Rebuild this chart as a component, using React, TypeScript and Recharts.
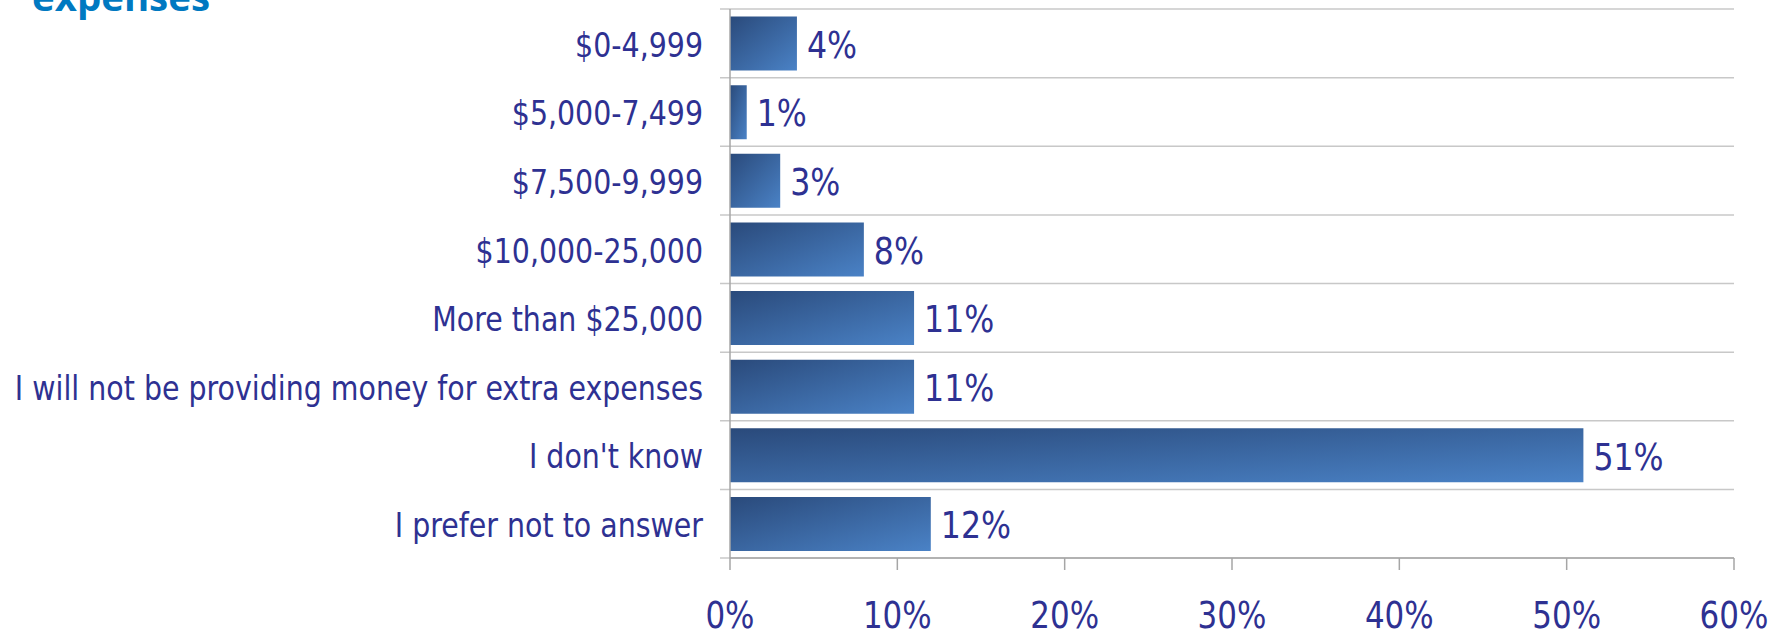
import React from "react";
import {
  BarChart,
  Bar,
  XAxis,
  YAxis,
  CartesianGrid,
  LabelList,
} from "recharts";

const categories = [
  "$0-4,999",
  "$5,000-7,499",
  "$7,500-9,999",
  "$10,000-25,000",
  "More than $25,000",
  "I will not be providing money for extra expenses",
  "I don't know",
  "I prefer not to answer",
];
const shares = [4, 1, 3, 8, 11, 11, 51, 12];
const xTicks = [0, 10, 20, 30, 40, 50, 60];

const W = 1783;
const H = 633;
const TEXT = "#2e3192";
const FONT = '"DejaVu Sans Condensed", "DejaVu Sans", sans-serif';

const data = categories.map((name, i) => ({ name, value: shares[i] }));

// squeeze text sideways, the original face is narrower than anything installed
const squeeze = (x: number, y: number, k: number) =>
  `translate(${x} ${y}) scale(${k} 1) translate(${-x} ${-y})`;

// grid lines sit on the band edges and poke 10px left of the axis like tick marks
const GridLine = (props: any) => (
  <line
    x1={props.x1 - 10}
    x2={props.x2}
    y1={props.y1}
    y2={props.y2}
    stroke="#c8c8c8"
    strokeWidth={1.5}
  />
);

const CategoryTick = ({ x, y, payload }: any) => (
  <text
    x={x}
    y={y + 2}
    textAnchor="end"
    dominantBaseline="central"
    fill={TEXT}
    fontSize={34}
    fontFamily={FONT}
    transform={squeeze(x, y, 0.93)}
  >
    {payload.value}
  </text>
);

const PercentTick = ({ x, y, payload }: any) => (
  <text
    x={x}
    y={y}
    dy="0.71em"
    textAnchor="middle"
    fill={TEXT}
    fontSize={37}
    fontFamily={FONT}
    transform={squeeze(x, y, 0.93)}
  >
    {`${payload.value}%`}
  </text>
);

const ValueLabel = ({ x, y, width, height, value }: any) => {
  const lx = x + width + 10;
  const ly = y + height / 2 + 2;
  return (
    <text
      x={lx}
      y={ly}
      dominantBaseline="central"
      fill={TEXT}
      fontSize={37}
      fontFamily={FONT}
      transform={squeeze(lx, ly, 0.95)}
    >
      {`${value}%`}
    </text>
  );
};

export default function App() {
  return (
    <div style={{ position: "absolute", left: 0, top: 0, width: W, height: H, background: "#fff", overflow: "hidden" }}>
      <svg width={W} height={40} style={{ position: "absolute", left: 0, top: 0 }}>
        <text
          x={32}
          y={11}
          fill="#0079c1"
          fontFamily='"Open Sans", sans-serif'
          fontWeight={700}
          fontSize={37}
          textLength={178}
          lengthAdjust="spacingAndGlyphs"
        >
          expenses
        </text>
      </svg>
      <BarChart
        width={W}
        height={H}
        data={data}
        layout="vertical"
        barCategoryGap="11%"
        margin={{ top: 9, right: 49, bottom: 0, left: 0 }}
      >
        <defs>
          <linearGradient id="barFill" x1="0" y1="0" x2="1" y2="1">
            <stop offset="0%" stopColor="#2a4a7b" />
            <stop offset="100%" stopColor="#4a82c6" />
          </linearGradient>
        </defs>
        <CartesianGrid
          vertical={false}
          horizontal={GridLine}
          horizontalCoordinatesGenerator={({ offset }: any) =>
            Array.from({ length: categories.length + 1 }, (_, i) =>
              offset.top + (i * offset.height) / categories.length
            )
          }
        />
        <XAxis
          type="number"
          domain={[0, 60]}
          ticks={xTicks}
          height={75}
          tickSize={12}
          tickMargin={32}
          stroke="#a6a6a6"
          strokeWidth={1.5}
          tick={<PercentTick />}
        />
        <YAxis
          type="category"
          dataKey="name"
          width={730}
          tickLine={false}
          tickSize={10}
          tickMargin={17}
          stroke="#a6a6a6"
          strokeWidth={1.5}
          interval={0}
          tick={<CategoryTick />}
        />
        <Bar dataKey="value" fill="url(#barFill)" isAnimationActive={false}>
          <LabelList dataKey="value" content={<ValueLabel />} />
        </Bar>
      </BarChart>
    </div>
  );
}
